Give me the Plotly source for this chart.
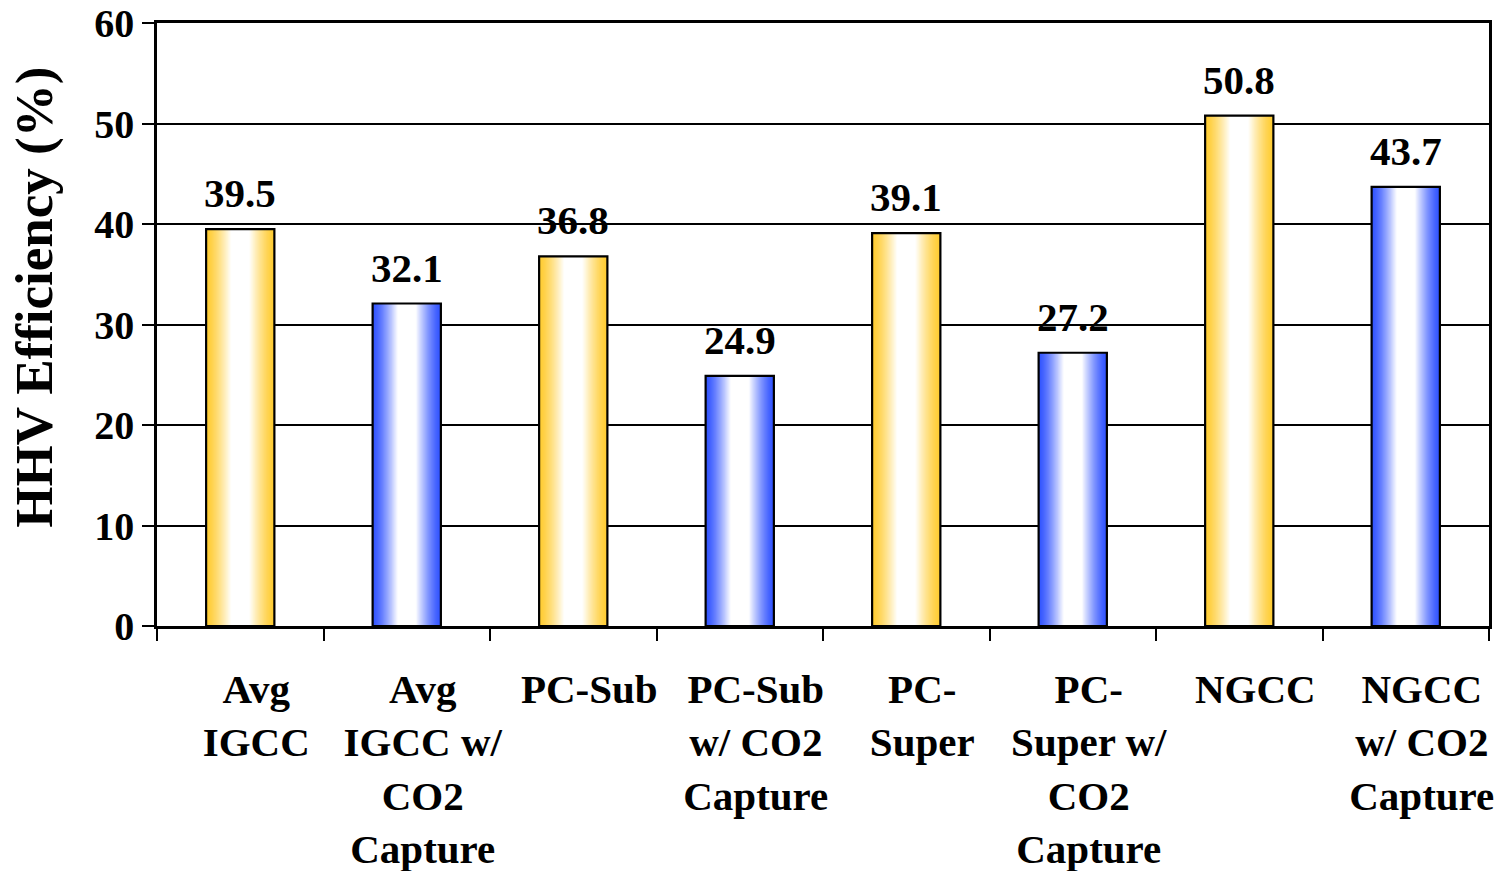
import plotly.graph_objects as go

# Plant types and their higher-heating-value efficiencies (%)
categories = [
    "Avg<br>IGCC",
    "Avg<br>IGCC w/<br>CO2<br>Capture",
    "PC-Sub",
    "PC-Sub<br>w/ CO2<br>Capture",
    "PC-<br>Super",
    "PC-<br>Super w/<br>CO2<br>Capture",
    "NGCC",
    "NGCC<br>w/ CO2<br>Capture",
]
efficiency = [39.5, 32.1, 36.8, 24.9, 39.1, 27.2, 50.8, 43.7]
with_capture = [False, True, False, True, False, True, False, True]

y_ticks = [0, 10, 20, 30, 40, 50, 60]

YELLOW = (255, 204, 51)
BLUE = (51, 85, 255)
WHITE = (255, 255, 255)

FONT = "Liberation Serif, Times New Roman, serif"
BAR_W = 0.41
N_LAYERS = 30


def mix(c1, c2, t):
    return "rgb({},{},{})".format(*[round(a + (b - a) * t) for a, b in zip(c1, c2)])


fig = go.Figure()

# Shaded "cylinder" look: stacked bars of shrinking width fading to white
for k in range(N_LAYERS):
    d = k / N_LAYERS
    t = min(1.0, d / 0.72) ** 1.35
    colors = [mix(BLUE if cap else YELLOW, WHITE, t) for cap in with_capture]
    fig.add_trace(go.Bar(
        x=categories, y=efficiency,
        width=BAR_W * (1 - d),
        marker=dict(color=colors, line=dict(width=0)),
        hoverinfo="skip", showlegend=False,
    ))

# Black outline on top of the shading
fig.add_trace(go.Bar(
    x=categories, y=efficiency, width=BAR_W,
    marker=dict(color="rgba(0,0,0,0)", line=dict(color="black", width=2.2)),
    showlegend=False,
))

for cat, val in zip(categories, efficiency):
    fig.add_annotation(
        x=cat, y=val, text=f"{val:.1f}", showarrow=False,
        yanchor="middle", yshift=36,
        font=dict(family=FONT, size=41, color="black", weight="bold"),
    )

# Vertical axis title
fig.add_annotation(
    xref="paper", yref="paper", x=-0.092, y=0.545,
    text="HHV Efficiency (%)", textangle=-90, showarrow=False,
    xanchor="center", yanchor="middle",
    font=dict(family=FONT, size=53, color="black", weight="bold"),
)

fig.update_layout(
    width=1502, height=871,
    margin=dict(l=157, r=13, t=23, b=245, autoexpand=False),
    paper_bgcolor="white", plot_bgcolor="white",
    barmode="overlay",
    font=dict(family=FONT, color="black"),
    xaxis=dict(
        type="category",
        tickson="boundaries",
        tickangle=0, automargin=False,
        ticks="outside", ticklen=12, tickwidth=2.2, tickcolor="black",
        showline=True, linecolor="black", linewidth=2.5, mirror=True,
        showgrid=False,
        tickfont=dict(family=FONT, size=41, color="black", weight="bold"),
        ticklabelstandoff=25,
        ticklabelshift=16,
    ),
    yaxis=dict(
        range=[0, 60.02], tickvals=y_ticks, automargin=False,
        ticks="outside", ticklen=12, tickwidth=2.2, tickcolor="black",
        showline=True, linecolor="black", linewidth=2.5, mirror=True,
        showgrid=True, gridcolor="black", gridwidth=2,
        zeroline=False,
        ticklabeloverflow="allow",
        tickfont=dict(family=FONT, size=40, color="black", weight="bold"),
    ),
)

fig.write_html("out.html")
